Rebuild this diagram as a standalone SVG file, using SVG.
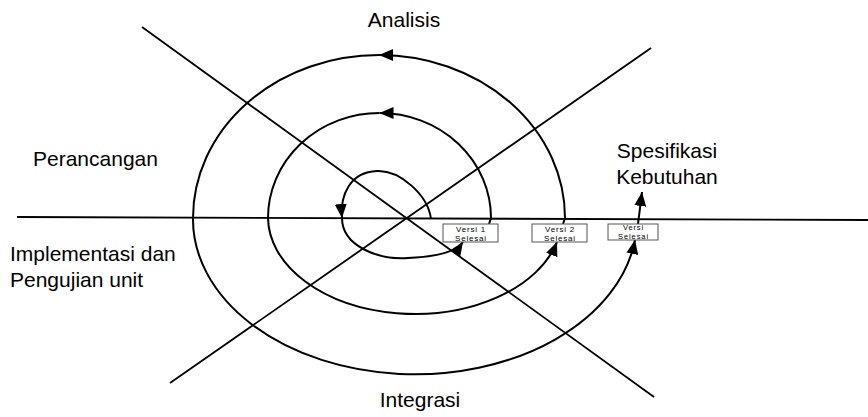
<svg xmlns="http://www.w3.org/2000/svg" width="868" height="417" viewBox="0 0 868 417">
<style>
  .ln { fill: none; stroke: #000; stroke-width: 1.8; }
  .sp { fill: none; stroke: #000; stroke-width: 2; }
  .lbl { font-family: "Liberation Sans", Arial, sans-serif; font-size: 21px; fill: #000; }
  .box { fill: #fff; stroke: #555; stroke-width: 1; }
  .bt { font-family: "Liberation Sans", Arial, sans-serif; font-size: 8px; letter-spacing: 0.8px; fill: #000; text-anchor: middle; }
  .bs { font-size: 7.5px; letter-spacing: 0.9px; }
</style>
<defs>
  <marker id="ah" markerUnits="userSpaceOnUse" viewBox="0 0 14 12" refX="14" refY="6" markerWidth="14" markerHeight="12" orient="auto">
    <path d="M0,0 L14,6 L0,12 Z" fill="#000"/>
  </marker>
</defs>
<rect width="868" height="417" fill="#fff"/>
<g id="axes">
  <line class="ln" x1="17" y1="217" x2="868" y2="220"/>
  <line class="ln" x1="142" y1="27" x2="654" y2="397"/>
  <line class="ln" x1="170" y1="383" x2="651" y2="48"/>
</g>
<g id="connectors">
  <path class="sp" d="M431 219 C428 195 400 170 377 171 C350 172 340 195 342 218" marker-end="url(#ah)"/>
  <path class="sp" d="M342 218 C342 246 378 260 408 258 C430 257 455 254 463 242" marker-end="url(#ah)"/>
  <path class="sp" d="M489 224 L491 218 A111.5 105 0 0 0 379.5 113" marker-end="url(#ah)"/>
  <path class="sp" d="M379.5 113 A111.5 105 0 0 0 268 218 A147 97 0 0 0 557 242" marker-end="url(#ah)"/>
  <path class="sp" d="M563 224 L565 218 A186 163 0 0 0 379 55" marker-end="url(#ah)"/>
  <path class="sp" d="M379 55 A186 163 0 0 0 193 218 A222 155 0 0 0 635 240" marker-end="url(#ah)"/>
  <path class="sp" d="M638 224 L642 192" marker-end="url(#ah)"/>
</g>
<g id="versi1">
  <rect class="box" x="443" y="224" width="55" height="18"/>
  <text class="bt" x="471" y="231.5">Versi 1</text>
  <text class="bt" x="471" y="240.5">Selesai</text>
</g>
<g id="versi2">
  <rect class="box" x="532" y="224" width="55" height="18"/>
  <text class="bt" x="560" y="231.5">Versi 2</text>
  <text class="bt" x="560" y="240.5">Selesai</text>
</g>
<g id="versi3">
  <rect class="box" x="608" y="224" width="50" height="16"/>
  <text class="bt bs" x="633.5" y="230">Versi</text>
  <text class="bt bs" x="633.5" y="238.5">Selesai</text>
</g>
<g id="analisis"><text class="lbl" x="404" y="27" text-anchor="middle">Analisis</text></g>
<g id="perancangan"><text class="lbl" x="33" y="166">Perancangan</text></g>
<g id="implementasi">
  <text class="lbl" x="10" y="261">Implementasi dan</text>
  <text class="lbl" x="10" y="287">Pengujian unit</text>
</g>
<g id="spesifikasi">
  <text class="lbl" x="667" y="158" text-anchor="middle">Spesifikasi</text>
  <text class="lbl" x="667" y="184" text-anchor="middle">Kebutuhan</text>
</g>
<g id="integrasi"><text class="lbl" x="420" y="407" text-anchor="middle">Integrasi</text></g>
</svg>
